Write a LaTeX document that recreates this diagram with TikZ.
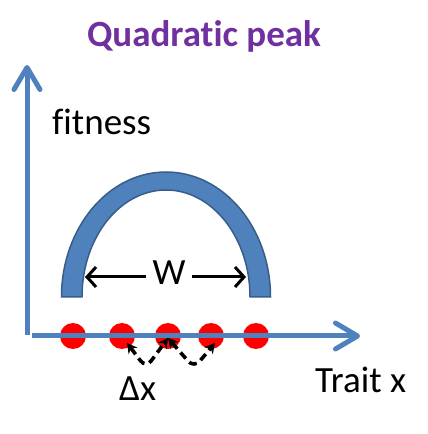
\documentclass[tikz,border=0pt]{standalone}
\usepackage{fontspec}
\setmainfont[Ligatures=NoCommon]{Carlito}
\usetikzlibrary{arrows.meta,calc,positioning}
\definecolor{axisblue}{HTML}{4F81BD}
\definecolor{domeedge}{HTML}{385D8A}
\definecolor{titlepurple}{HTML}{7030A0}

\begin{document}
\begin{tikzpicture}[x=1pt,y=1pt,
  axis/.style={draw=axisblue,line width=5pt,-{Straight Barb[round,length=22pt,width=26pt]}},
  dot/.style={circle,fill=red,inner sep=0pt,minimum size=26pt},
  lbl/.style={inner sep=0pt,font=\fontsize{37}{40}\selectfont},
  warrow/.style={line width=3pt,-{Straight Barb[length=9pt,width=20pt]}},
  jump/.style={line width=3.6pt,dash pattern=on 8pt off 5pt,rounded corners=9pt,
    {Stealth[length=10pt,width=11pt]}-{Stealth[length=10pt,width=11pt]}}]
  \useasboundingbox (0,0) rectangle (428,434);
  % axes ends
  \coordinate (o1) at (27,99);
  \coordinate (ytop) at (27,369);
  \coordinate (o2) at (32,98);
  \coordinate (xend) at (360,98);
  \draw[axis] (o1) -- (ytop);
  % population along the trait axis
  \foreach \i/\x in {1/73,2/122,3/168,4/211,5/256}
    \node[dot] (d\i) at (\x,98) {};
  \draw[axis] (o2) -- (xend);
  % the peak
  \fill[axisblue,draw=domeedge,line width=1.5pt]
    (61.5,137) arc[start angle=180,end angle=0,x radius=104.5,y radius=125]
    -- (250,137) arc[start angle=0,end angle=180,x radius=84,y radius=107] -- cycle;
  \node[lbl,anchor=base,inner xsep=6pt] (w) at (169,149) {W};
  \coordinate (wl) at (85,157);
  \coordinate (wr) at (246,157);
  \draw[warrow] (w.west |- wl) -- (wl);
  \draw[warrow] (w.east |- wr) -- (wr);
  % mutation steps
  \draw[jump] ($(d2)+(5,-7)$) -- (146,66) -- ($(d3)+(0,-2)$);
  \draw[jump] ($(d3)+(0,-2)$) -- (194,66) -- ($(d4)+(4,-7)$);
  % texts
  \node[lbl,font=\bfseries\fontsize{37}{40}\selectfont,text=titlepurple,anchor=base] (title) at (204,387) {Quadratic peak};
  \node[lbl,anchor=base west] (fit) at (52,299) {fitness};
  \node[lbl,anchor=base west] (trait) at (315,41) {Trait x};
  \node[lbl,anchor=base west] (dx) at (119,34) {Δx};
\end{tikzpicture}
\end{document}
